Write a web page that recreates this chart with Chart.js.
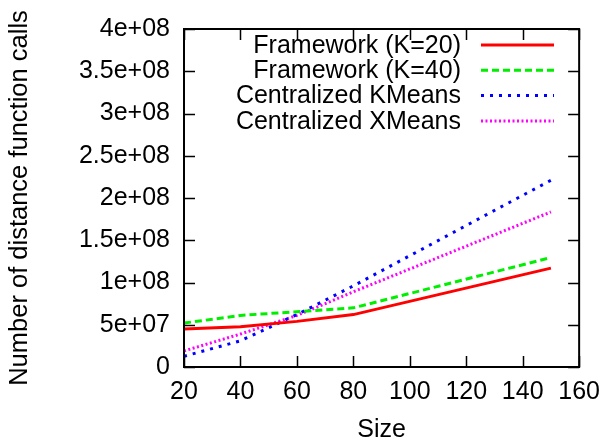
<!DOCTYPE html>
<html>
<head>
<meta charset="utf-8">
<script src="https://cdn.jsdelivr.net/npm/chart.js@4/dist/chart.umd.min.js"></script>
<style>
  html, body { margin: 0; padding: 0; background: #ffffff; }
  #wrap { width: 610px; height: 440px; }
</style>
</head>
<body>
<div id="wrap"><canvas id="c" width="610" height="440"></canvas></div>
<script>
// ---- Data ----
const sizes = [20, 40, 60, 80, 150];
const frameworkK20 = [4.5e7, 4.75e7, 5.4e7, 6.2e7, 1.17e8];
const frameworkK40 = [5.2e7, 6.1e7, 6.55e7, 7.0e7, 1.295e8];
const centralKMeans = [1.27e7, 3.1e7, 6.2e7, 9.6e7, 2.21e8];
const centralXMeans = [1.9e7, 3.9e7, 6.1e7, 8.9e7, 1.835e8];
const seriesLabels = ["Framework (K=20)", "Framework (K=40)", "Centralized KMeans", "Centralized XMeans"];
const xTickValues = [20, 40, 60, 80, 100, 120, 140, 160];
const yTickLabels = ["0", "5e+07", "1e+08", "1.5e+08", "2e+08", "2.5e+08", "3e+08", "3.5e+08", "4e+08"];
const xTitle = "Size";
const yTitle = "Number of distance function calls";

const FONT = "'Liberation Sans', Arial, Helvetica, sans-serif";

function pts(ys) { return sizes.map((x, i) => ({ x: x, y: ys[i] })); }

const styles = [
  { color: "#ff0000", dash: [] },
  { color: "#00ee00", dash: [7, 4] },
  { color: "#0000ff", dash: [3, 6] },
  { color: "#ff00ff", dash: [2, 2.5] }
];
const seriesValues = [frameworkK20, frameworkK40, centralKMeans, centralXMeans];

const datasets = seriesValues.map((v, i) => ({
  label: seriesLabels[i],
  data: pts(v),
  borderColor: styles[i].color,
  backgroundColor: styles[i].color,
  borderDash: styles[i].dash,
  borderWidth: 3,
  pointRadius: 0,
  fill: false,
  tension: 0
}));

// Frame + inward ticks (gnuplot style), and gnuplot-style legend
const framePlugin = {
  id: "frame",
  afterDatasetsDraw(chart) {
    const ctx = chart.ctx;
    const a = chart.chartArea;
    const xs = chart.scales.x, ys = chart.scales.y;
    ctx.save();
    ctx.strokeStyle = "#000";
    ctx.lineWidth = 1.5;
    ctx.setLineDash([]);
    const tl = 11;
    ctx.beginPath();
    xTickValues.forEach(v => {
      const px = Math.round(xs.getPixelForValue(v)) + 0.5;
      ctx.moveTo(px, a.bottom); ctx.lineTo(px, a.bottom - tl);
      ctx.moveTo(px, a.top); ctx.lineTo(px, a.top + tl);
    });
    yTickLabels.forEach((_, i) => {
      const py = Math.round(ys.getPixelForValue(i * 5e7)) + 0.5;
      ctx.moveTo(a.left, py); ctx.lineTo(a.left + tl, py);
      ctx.moveTo(a.right, py); ctx.lineTo(a.right - tl, py);
    });
    ctx.stroke();
    ctx.lineWidth = 2;
    ctx.strokeRect(a.left, a.top, a.right - a.left, a.bottom - a.top);

    // legend
    ctx.font = "25px " + FONT;
    ctx.textAlign = "right";
    ctx.textBaseline = "middle";
    chart.data.datasets.forEach((ds, i) => {
      const y = 45 + i * 25.3;
      ctx.fillStyle = "#000";
      ctx.fillText(ds.label, 461, y + 1);
      ctx.strokeStyle = ds.borderColor;
      ctx.lineWidth = ds.borderWidth;
      ctx.setLineDash(ds.borderDash);
      ctx.beginPath();
      ctx.moveTo(481, y);
      ctx.lineTo(554, y);
      ctx.stroke();
    });
    ctx.restore();
  }
};

new Chart(document.getElementById("c"), {
  type: "line",
  data: { datasets: datasets },
  options: {
    responsive: false,
    animation: false,
    layout: { padding: { left: 0, right: 26, top: 21, bottom: 0 } },
    plugins: {
      legend: { display: false },
      tooltip: { enabled: false }
    },
    scales: {
      x: {
        type: "linear",
        min: 20, max: 160,
        afterFit: s => { s.height = 73; },
        afterBuildTicks: s => { s.ticks = xTickValues.map(v => ({ value: v })); },
        border: { display: false },
        grid: { display: false, drawTicks: false },
        ticks: {
          padding: 10,
          color: "#000",
          font: { family: FONT, size: 25 },
          maxRotation: 0,
          autoSkip: false,
          callback: v => String(v)
        },
        title: {
          display: true,
          text: xTitle,
          color: "#000",
          font: { family: FONT, size: 25, lineHeight: 0.8 },
          padding: { top: 0, bottom: 0 }
        }
      },
      y: {
        type: "linear",
        min: 0, max: 4e8,
        afterFit: s => { s.width = 184; },
        afterBuildTicks: s => { s.ticks = yTickLabels.map((_, i) => ({ value: i * 5e7 })); },
        border: { display: false },
        grid: { display: false, drawTicks: false },
        ticks: {
          padding: 14,
          color: "#000",
          font: { family: FONT, size: 25 },
          autoSkip: false,
          callback: (v, i) => yTickLabels[i]
        },
        title: {
          display: true,
          text: yTitle,
          color: "#000",
          font: { family: FONT, size: 25.5, lineHeight: 1 },
          padding: { top: 7, bottom: 0 }
        }
      }
    }
  },
  plugins: [framePlugin]
});
</script>
</body>
</html>
